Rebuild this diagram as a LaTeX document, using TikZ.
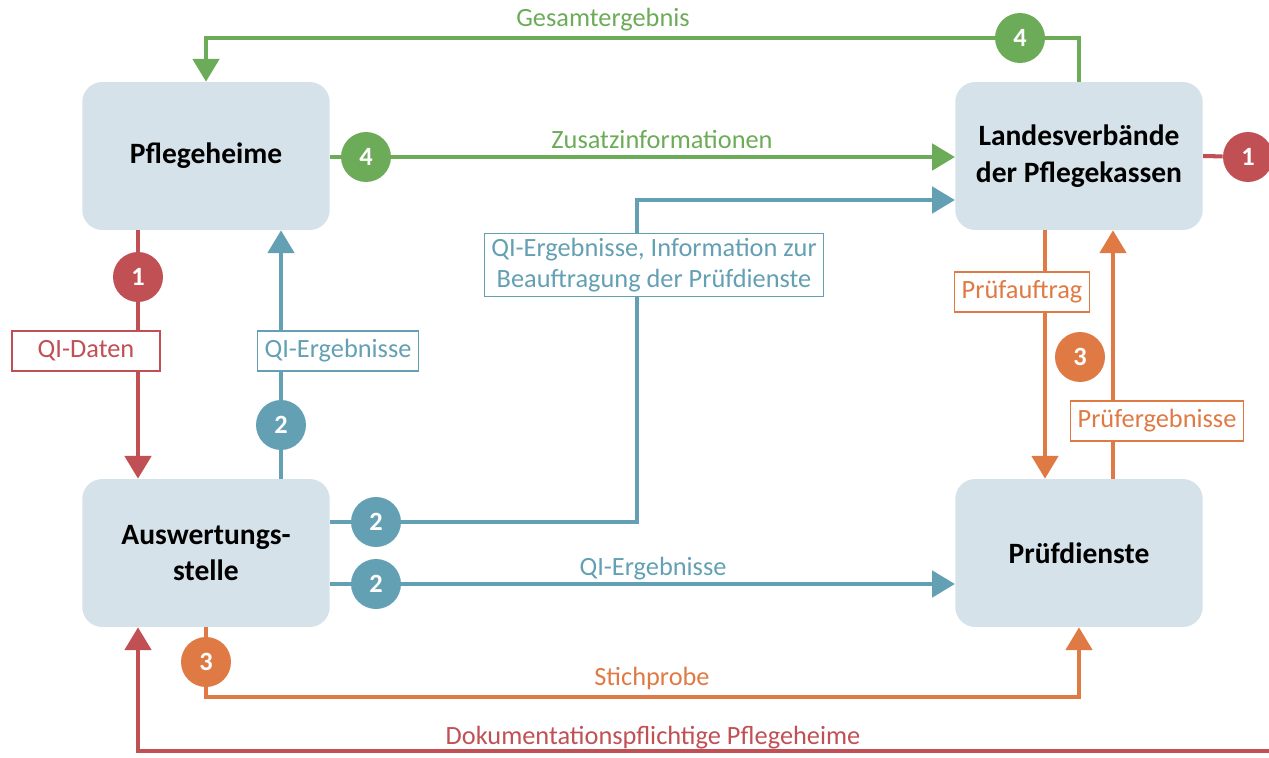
\documentclass[tikz,border=0pt]{standalone}
\usepackage{fontspec}
\setmainfont{Carlito}
\usetikzlibrary{arrows.meta}
\usetikzlibrary{positioning}

\definecolor{qired}{RGB}{192,80,84}
\definecolor{qigreen}{RGB}{108,172,88}
\definecolor{qiblue}{RGB}{100,160,180}
\definecolor{qiorange}{RGB}{224,122,68}
\definecolor{qibox}{RGB}{214,226,234}

\tikzset{
	akteur/.style={rectangle,rounded corners=0.4cm,fill=qibox,minimum width=4.95cm,minimum height=2.96cm,align=center,font=\bfseries\fontsize{16.8}{21}\selectfont},
	nummer/.style={circle,minimum size=1cm,inner sep=0pt,fill=#1,text=white,font=\bfseries\fontsize{15}{15}\selectfont},
	fluss/.style={draw=#1,line width=2.3pt,-{Triangle[width=15pt,length=13pt]}},
	etikett/.style={draw=#1,text=#1,fill=white,line width=0.8pt,minimum height=0.8cm,inner xsep=4pt,inner ysep=2.5pt,align=center,font=\fontsize{15}{18}\selectfont},
	beschriftung/.style={text=#1,font=\fontsize{15}{18}\selectfont}
}

\begin{document}
\begin{tikzpicture}[x=0.02cm,y=-0.02cm]
	\useasboundingbox (0,0) rectangle (1269,758);
	\node[akteur] (heime) at (206,156) {Pflegeheime};
	\node[akteur] (verband) at (1079,156) {Landesverbände\\der Pflegekassen};
	\node[akteur] (stelle) at (206,553) {Auswertungs-\\stelle};
	\node[akteur] (dienste) at (1079,553) {Prüfdienste};
	\node[nummer=qired] (n1a) at (138,277) {1};
	\node[nummer=qired] (n1b) at (1248,157) {1};
	\node[nummer=qiblue] (n2a) at (281,425) {2};
	\node[nummer=qiblue] (n2b) at (376,522) {2};
	\node[nummer=qiblue] (n2c) at (376,584) {2};
	\node[nummer=qiorange] (n3a) at (1080,357) {3};
	\node[nummer=qiorange] (n3b) at (206,662) {3};
	\node[nummer=qigreen] (n4a) at (366,157) {4};
	\node[nummer=qigreen] (n4b) at (1020,38) {4};
	\coordinate (knick) at (637,200);
	\coordinate (stich) at (206,697);
	\coordinate (rand) at (1269,751);
	\draw[fluss=qired] (heime.south -| n1a) -- (n1a) -- (n1a |- stelle.north);
	\draw[fluss=qired,-] (verband.east) -- (n1b);
	\draw[fluss=qired] (rand) -- (rand -| n1a) -- (n1a |- stelle.south);
	\draw[fluss=qiblue] (n2a |- stelle.north) -- (n2a) -- (n2a |- heime.south);
	\draw[fluss=qiblue] (stelle.east |- n2b) -- (n2b) -- (n2b -| knick) -- (knick) -- (knick -| verband.west);
	\draw[fluss=qiblue] (stelle.east |- n2c) -- (n2c) -- (dienste.west |- n2c);
	\draw[fluss=qigreen] (heime.east |- n4a) -- (n4a) -- (verband.west |- n4a);
	\draw[fluss=qigreen] (verband.north) -- (verband.north |- n4b) -- (n4b) -- (heime.north |- n4b) -- (heime.north);
	\draw[fluss=qiorange] ([xshift=-0.68cm]verband.south) -- ([xshift=-0.68cm]dienste.north);
	\draw[fluss=qiorange] ([xshift=0.68cm]dienste.north) -- ([xshift=0.68cm]verband.south);
	\draw[fluss=qiorange] (stelle.south) -- (n3b) -- (stich) -- (stich -| dienste.south) -- (dienste.south);
	\node[etikett=qired,minimum width=2.96cm] (lqidaten) at (86,351) {QI-Daten};
	\node[etikett=qiblue] (lqierg) at (338,351) {QI-Ergebnisse};
	\node[etikett=qiblue] (linfo) at (654,265) {QI-Ergebnisse, Information zur\\Beauftragung der Prüfdienste};
	\node[etikett=qiorange] (lauftrag) at (1022,292) {Prüfauftrag};
	\node[etikett=qiorange] (lpruef) at (1157,421) {Prüfergebnisse};
	\node[beschriftung=qigreen] (lgesamt) at (603,20) {Gesamtergebnis};
	\node[beschriftung=qigreen] (lzusatz) at (662,139) {Zusatzinformationen};
	\node[beschriftung=qiblue] (lqierg2) at (653,569) {QI-Ergebnisse};
	\node[beschriftung=qiorange] (lstich) at (652,678) {Stichprobe};
	\node[beschriftung=qired] (ldoku) at (653,738) {Dokumentationspflichtige Pflegeheime};
\end{tikzpicture}
\end{document}
